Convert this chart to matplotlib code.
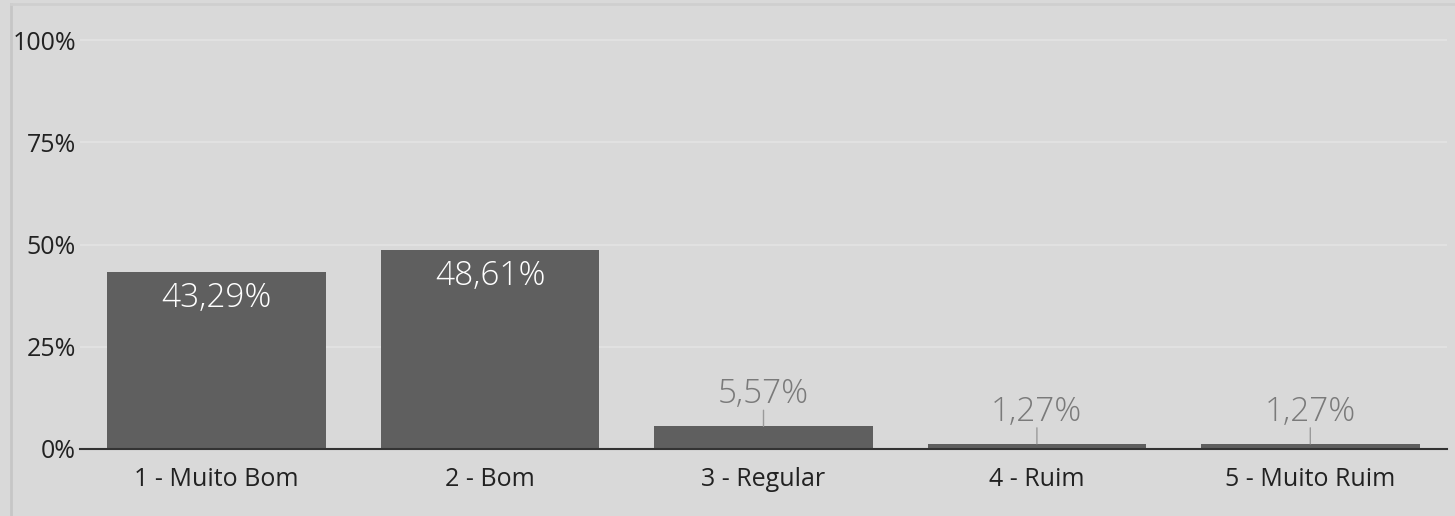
import matplotlib
matplotlib.use("Agg")
import matplotlib.pyplot as plt
from matplotlib.lines import Line2D

plt.rcParams['font.family'] = ['Open Sans', 'DejaVu Sans']

categories = ["1 - Muito Bom", "2 - Bom", "3 - Regular", "4 - Ruim", "5 - Muito Ruim"]
values = [43.29, 48.61, 5.57, 1.27, 1.27]
value_labels = ["43,29%", "48,61%", "5,57%", "1,27%", "1,27%"]
yticks = [0, 25, 50, 75, 100]
ytick_labels = ["0%", "25%", "50%", "75%", "100%"]

bg = "#d9d9d9"
fig = plt.figure(figsize=(14.55, 5.16), dpi=100, facecolor=bg)
ax = fig.add_axes([80 / 1455, 67 / 516, 1367 / 1455, 429 / 516])
ax.set_facecolor(bg)

x = range(len(categories))
ax.bar(x, values, width=0.8, color="#5f5f5f", zorder=3)

for i, (v, lab) in enumerate(zip(values, value_labels)):
    if v > 20:
        ax.annotate(lab, xy=(i, v), xytext=(0, -7), textcoords="offset points",
                    ha="center", va="top", color="white", fontsize=24,
                    fontweight="light", zorder=4)
    else:
        # leader line, then the label above it
        ax.annotate("", xy=(i, v), xytext=(0, 11.5), textcoords="offset points",
                    arrowprops=dict(arrowstyle="-", color="#9a9a9a", lw=1,
                                    shrinkA=0, shrinkB=0), zorder=4)
        ax.annotate(lab, xy=(i, v), xytext=(0, 11), textcoords="offset points",
                    ha="center", va="bottom", color="#7a7a7a", fontsize=24,
                    fontweight="light", zorder=4)

ax.set_xlim(-0.5, 4.5)
ax.set_ylim(0, 104.9)
ax.set_yticks(yticks)
ax.set_yticklabels(ytick_labels)
ax.set_xticks(list(x))
ax.set_xticklabels(categories)
ax.tick_params(axis="both", length=0, labelsize=18, colors="#222222")
ax.tick_params(axis="x", pad=13)
ax.tick_params(axis="y", pad=3)

for y in yticks[1:]:
    ax.axhline(y, color="#e3e3e3", lw=1.2, zorder=1)

for s in ["top", "right", "left"]:
    ax.spines[s].set_visible(False)
ax.spines["bottom"].set_color("#333333")
ax.spines["bottom"].set_linewidth(1.5)
ax.spines["bottom"].set_zorder(5)

# frame lines of the panel
fig.add_artist(Line2D([11 / 1455, 11 / 1455], [0, 1 - 4 / 516], color="#c6c6c6", lw=2))
fig.add_artist(Line2D([11 / 1455, 1], [1 - 4 / 516, 1 - 4 / 516], color="#cfcfcf", lw=2))

fig.savefig("out.png", dpi=100, facecolor=bg)
